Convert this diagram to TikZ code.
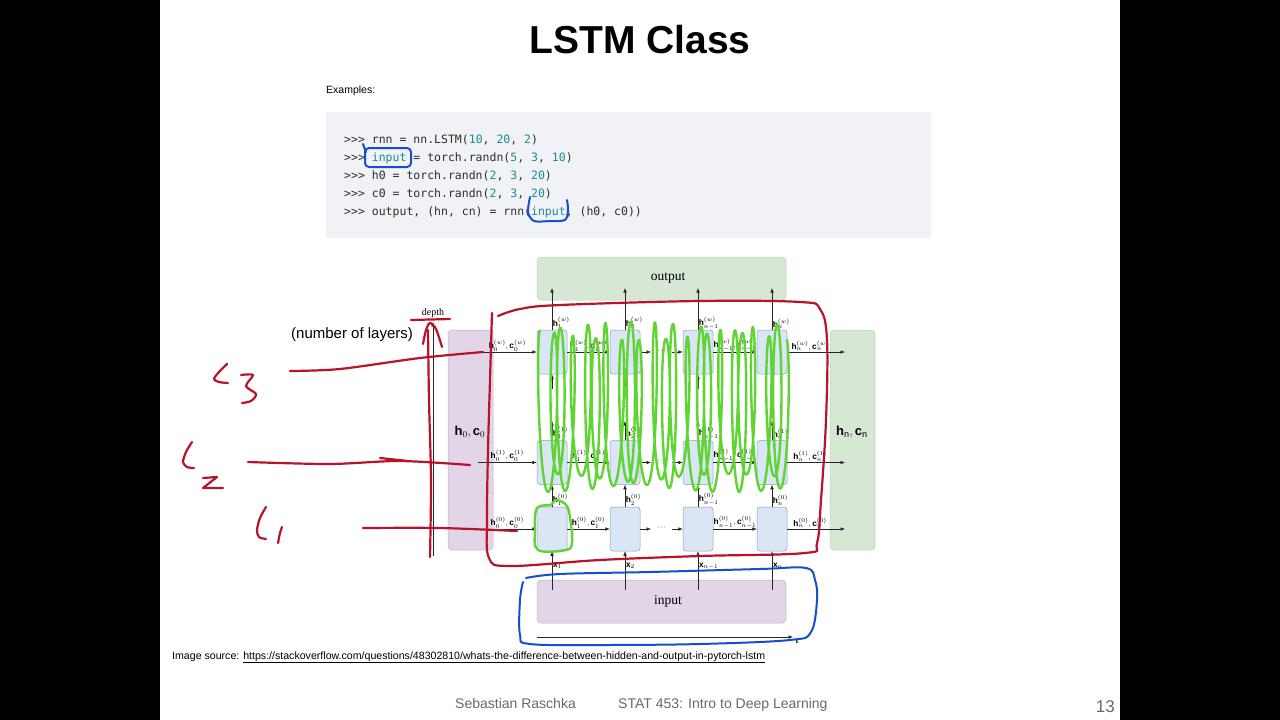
\documentclass[tikz,border=0pt]{standalone}
\usepackage{fontspec}
\setmainfont{Liberation Sans}
\newfontfamily\seriffont{Liberation Serif}
\newfontfamily\codefont{DejaVu Sans Mono}
\usetikzlibrary{arrows.meta}
\definecolor{codebg}{RGB}{240,242,245}
\definecolor{codetxt}{RGB}{45,45,45}
\definecolor{codenum}{RGB}{25,140,150}
\definecolor{grfill}{RGB}{214,232,212}
\definecolor{grdraw}{RGB}{185,210,178}
\definecolor{pufill}{RGB}{225,213,231}
\definecolor{pudraw}{RGB}{190,176,200}
\definecolor{cefill}{RGB}{218,229,246}
\definecolor{cedraw}{RGB}{140,158,188}
\definecolor{annred}{RGB}{185,18,42}
\definecolor{annblue}{RGB}{22,78,205}
\definecolor{anngreen}{RGB}{95,212,50}
\definecolor{footgray}{RGB}{105,105,105}
\newcommand\nm[1]{\textcolor{codenum}{#1}}
\tikzset{
  arr/.style={-{Latex[length=4.5pt,width=3.6pt]}, line width=0.6pt, draw=black!85},
  cellbox/.style={draw=cedraw, fill=cefill, rounded corners=3pt, minimum width=30pt, minimum height=44pt, inner sep=0pt, line width=0.5pt},
  grbox/.style={draw=grdraw, fill=grfill, rounded corners=4pt, inner sep=0pt, line width=0.5pt},
  pubox/.style={draw=pudraw, fill=pufill, rounded corners=4pt, inner sep=0pt, line width=0.5pt},
  lbl/.style={font=\fontsize{8.3}{8.5}\selectfont, inner sep=0.4pt},
  codeline/.style={anchor=base west, inner sep=0pt, text=codetxt, font=\codefont\fontsize{11.5}{12}\selectfont},
  redann/.style={draw=annred, line width=2.2pt, line cap=round, line join=round},
  blueann/.style={draw=annblue, line width=2pt, line cap=round, line join=round},
  greenann/.style={draw=anngreen, line width=2.4pt, line cap=round, line join=round},
}
\begin{document}
\begin{tikzpicture}[x=1pt,y=-1pt]
\useasboundingbox (0,0) rectangle (1280,720);
\fill[black] (0,0) rectangle (160,720);
\fill[black] (1120,0) rectangle (1280,720);
\fill[white] (160,0) rectangle (1120,720);

% title and examples
\node[anchor=base, inner sep=0pt, font=\fontsize{39}{40}\selectfont\bfseries] (title) at (640,53) {LSTM Class};
\node[anchor=base west, inner sep=0pt, font=\fontsize{10.5}{12}\selectfont] (examples) at (326,93) {Examples:};

% code block
\fill[codebg] (326,112) rectangle (931,238);
\node[codeline] (l1) at (344,143) {>>> rnn = nn.LSTM(\nm{10}, \nm{20}, \nm{2})};
\node[codeline] (l2) at (344,161) {>>> \nm{input} = torch.randn(\nm{5}, \nm{3}, \nm{10})};
\node[codeline] (l3) at (344,179) {>>> h0 = torch.randn(\nm{2}, \nm{3}, \nm{20})};
\node[codeline] (l4) at (344,197) {>>> c0 = torch.randn(\nm{2}, \nm{3}, \nm{20})};
\node[codeline] (l5) at (344,215) {>>> output, (hn, cn) = rnn(\nm{input}, (h0, c0))};

% diagram boxes
\node[grbox, minimum width=249pt, minimum height=43pt] (outbox) at (661.5,278.5) {};
\node[font=\seriffont\fontsize{13.5}{14}\selectfont] (outtxt) at (668,278) {output};
\node[pubox, minimum width=249pt, minimum height=43pt] (inbox) at (661.5,601.5) {};
\node[font=\seriffont\fontsize{13.5}{14}\selectfont] (intxt) at (668,601) {input};
\node[pubox, minimum width=45pt, minimum height=220pt] (h0box) at (470.5,440) {};
\node[font=\fontsize{13}{13}\selectfont] (h0txt) at (470,432) {$\mathbf{h}_0,\mathbf{c}_0$};
\node[grbox, minimum width=45pt, minimum height=220pt] (hnbox) at (852.5,440) {};
\node[font=\fontsize{13}{13}\selectfont] (hntxt) at (852,432) {$\mathbf{h}_\mathrm{n},\mathbf{c}_\mathrm{n}$};

% cells
\foreach \c/\x in {1/552,2/625,3/698,4/772}{
  \node[cellbox] (c\c1) at (\x,529) {};
  \node[cellbox] (c\c2) at (\x,462.5) {};
  \node[cellbox] (c\c3) at (\x,352) {};
}

% horizontal connectors
\foreach \r/\y/\s in {1/529/0,2/462.5/1,3/352/w}{
  \coordinate (s\r) at (478,\y);
  \coordinate (e\r) at (845,\y);
  \coordinate (da\r) at (651,\y);
  \coordinate (db\r) at (672,\y);
  \draw[arr] (s\r) -- node[lbl, above=0.3pt]{$\mathbf{h}_0^{(\s)},\mathbf{c}_0^{(\s)}$} (c1\r.west);
  \draw[arr] (c1\r.east) -- node[lbl, above=0.3pt]{$\mathbf{h}_1^{(\s)},\mathbf{c}_1^{(\s)}$} (c2\r.west);
  \draw[arr] (c2\r.east) -- (da\r);
  \node[inner sep=0pt, font=\fontsize{8}{8}\selectfont] (dots\r) at (661.5,\y-1.5) {$\cdot\!\cdot\!\cdot$};
  \draw[arr] (db\r) -- (c3\r.west);
  \draw[arr] (c3\r.east) -- node[lbl, above=0.3pt]{$\mathbf{h}_{n-1}^{(\s)},\mathbf{c}_{n-1}^{(\s)}$} (c4\r.west);
  \draw[arr] (c4\r.east) -- node[lbl, above=0.3pt, xshift=-6pt]{$\mathbf{h}_n^{(\s)},\mathbf{c}_n^{(\s)}$} (e\r);
}

% vertical connectors
\foreach \c/\x/\i in {1/552/1,2/625/2,3/698/{n-1},4/772/n}{
  \coordinate (in\c) at (\x,590);
  \coordinate (out\c) at (\x,288);
  \coordinate (mt\c) at (\x,421);
  \coordinate (mb\c) at (\x,389);
  \draw[arr] (in\c) -- (c\c1.south);
  \node[lbl, anchor=west] (xl\c) at (\x+0.5,566) {$\mathbf{x}_{\i}$};
  \draw[arr] (c\c1.north) -- (c\c2.south);
  \node[lbl, anchor=south west] (hl0\c) at (\x+0.3,506) {$\mathbf{h}_{\i}^{(0)}$};
  \draw[arr] (c\c2.north) -- (mt\c);
  \node[lbl, anchor=south west] (hl1\c) at (\x+0.3,439.5) {$\mathbf{h}_{\i}^{(1)}$};
  \node[inner sep=0pt, font=\fontsize{8}{8}\selectfont] (vd\c) at (\x,400) {$\vdots$};
  \draw[arr] (mb\c) -- (c\c3.south);
  \draw[arr] (c\c3.north) -- (out\c);
  \node[lbl, anchor=south west] (hlw\c) at (\x+0.3,329.5) {$\mathbf{h}_{\i}^{(w)}$};
}

% depth and time axes
\coordinate (dbot) at (433,556);
\coordinate (dtop) at (433,322);
\draw[arr] (dbot) -- (dtop);
\node[font=\seriffont\fontsize{10}{10}\selectfont, inner sep=0pt] (depth) at (433,313) {depth};
\coordinate (tl) at (537,637);
\coordinate (tr) at (793,637);
\draw[arr] (tl) -- (tr);
\node[font=\seriffont\bfseries\fontsize{8.5}{8.5}\selectfont, inner sep=0pt] (tlab) at (797,641) {t};

% text on slide
\node[anchor=west, inner sep=0pt, font=\fontsize{15}{15}\selectfont] (nol) at (291,335) {(number of layers)};
\node[anchor=base west, inner sep=0pt, font=\fontsize{10.6}{11}\selectfont] (src) at (172,659) {Image source: \underline{https://stackoverflow.com/questions/48302810/whats-the-difference-between-hidden-and-output-in-pytorch-lstm}};
\node[anchor=base west, inner sep=0pt, text=footgray, font=\fontsize{14}{14}\selectfont] (auth) at (455,708) {Sebastian Raschka};
\node[anchor=base west, inner sep=0pt, text=footgray, font=\fontsize{14}{14}\selectfont] (course) at (618,708) {STAT 453: Intro to Deep Learning};
\node[anchor=base east, inner sep=0pt, text=footgray, font=\fontsize{17}{17}\selectfont] (page) at (1115,712) {13};

% ---------- handwritten annotations ----------
% green scribbles
\draw[greenann] plot[domain=0:138, samples=1400] ({540+1.8*\x-5.5*sin(deg(\x))+3*sin(deg(0.31*\x))}, {407-(76+9*sin(deg(0.53*\x)))*cos(deg(\x))});
\draw[greenann] plot[smooth cycle, tension=0.6] coordinates {(537,508) (551,505) (556,500) (567,506) (571,525) (572,543) (566,550) (538,550) (535,530)};

% red
\draw[redann] (411,320) -- (450,319);
\draw[redann] plot[smooth] coordinates {(430,557) (431,480) (429,400) (428,330)};
\draw[redann] plot[smooth] coordinates {(423,344) (426,330) (430,323) (436,329) (442,347)};
\draw[redann] plot[smooth] coordinates {(290,371) (340,369) (420,358) (483,352)};
\draw[redann] plot[smooth] coordinates {(248,462) (330,464) (400,461) (470,465)};
\draw[redann] (380,458) -- (408,461);
\draw[redann] plot[smooth] coordinates {(363,528) (440,528) (517,531)};
\draw[redann] plot[smooth, tension=0.6] coordinates {(492,313) (490,380) (488,450) (487,520) (489,558) (510,566) (600,560) (700,556) (805,553) (817,543) (821,500) (826,420) (827,340) (820,309) (800,302) (700,301) (560,305) (520,309) (498,316)};
\draw[redann] plot[smooth] coordinates {(227,364) (219,372) (214,379) (219,382) (228,383)};
\draw[redann] plot[smooth] coordinates {(241,375) (253,375) (246,386) (256,394) (251,401) (242,403)};
\draw[redann] plot[smooth] coordinates {(192,442) (186,452) (183,462) (187,467) (194,468)};
\draw[redann] (203,478) -- (217,477) -- (203,488) -- (223,488);
\draw[redann] plot[smooth] coordinates {(266,507) (260,518) (257,530) (259,537) (266,539)};
\draw[redann] plot[smooth] coordinates {(282,527) (280,533) (278,543)};

% blue
\draw[blueann, rounded corners=4pt] (365,148) rectangle (411,167);
\draw[blueann] (363,144) -- (366,152);
\draw[blueann] plot[smooth] coordinates {(530,197) (528,212) (534,221) (550,221) (565,220) (568,210) (567,200)};
\draw[blueann] plot[smooth, tension=0.6] coordinates {(526,578) (560,574) (650,572) (760,569) (806,568) (815,580) (817,600) (811,632) (790,640) (700,644) (600,645) (530,644) (520,635) (520,600) (523,582)};
\end{tikzpicture}
\end{document}
